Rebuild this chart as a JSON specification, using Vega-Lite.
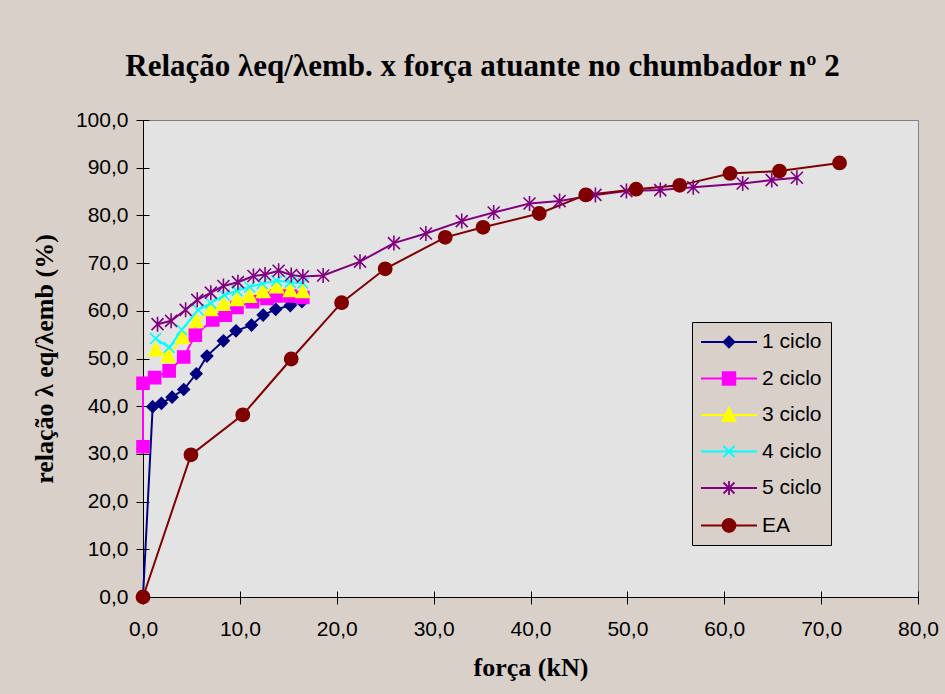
{
  "$schema": "https://vega.github.io/schema/vega-lite/v6.json",
  "autosize": "none",
  "width": 775,
  "height": 477,
  "padding": {"left": 143, "top": 120, "right": 27, "bottom": 97},
  "background": "#D9D0CA",
  "title": {
    "text": "Relação λeq/λemb. x força atuante no chumbador nº 2",
    "font": "Liberation Serif",
    "fontSize": 31,
    "fontWeight": "bold",
    "color": "#000000",
    "anchor": "middle",
    "baseline": "alphabetic",
    "offset": 2,
    "dx": -48
  },
  "config": {
    "view": {"fill": "#E3E3E3", "stroke": "#808080", "strokeWidth": 1},
    "axis": {
      "grid": false,
      "domainColor": "#000000",
      "domainWidth": 1,
      "tickColor": "#000000",
      "tickSize": 7,
      "labelFont": "Liberation Sans",
      "labelFontSize": 21,
      "labelColor": "#000000",
      "labelFlush": false,
      "labelOverlap": false,
      "titleFont": "Liberation Serif",
      "titleFontWeight": "bold",
      "titleColor": "#000000"
    }
  },
  "resolve": {"axis": {"x": "independent", "y": "independent"}},
  "data": {
    "values": [
      {"s": "1 ciclo", "x": 0, "y": 0},
      {"s": "1 ciclo", "x": 1.0, "y": 39.9},
      {"s": "1 ciclo", "x": 1.9, "y": 40.6},
      {"s": "1 ciclo", "x": 3.0, "y": 41.9},
      {"s": "1 ciclo", "x": 4.2, "y": 43.5},
      {"s": "1 ciclo", "x": 5.5, "y": 46.8},
      {"s": "1 ciclo", "x": 6.6, "y": 50.5},
      {"s": "1 ciclo", "x": 8.3, "y": 53.7},
      {"s": "1 ciclo", "x": 9.6, "y": 55.8},
      {"s": "1 ciclo", "x": 11.2, "y": 57.0},
      {"s": "1 ciclo", "x": 12.4, "y": 59.1},
      {"s": "1 ciclo", "x": 13.7, "y": 60.3},
      {"s": "1 ciclo", "x": 15.2, "y": 61.1},
      {"s": "1 ciclo", "x": 16.4, "y": 61.9},
      {"s": "2 ciclo", "x": 0, "y": 31.5},
      {"s": "2 ciclo", "x": 0, "y": 44.8},
      {"s": "2 ciclo", "x": 1.2, "y": 46.0},
      {"s": "2 ciclo", "x": 2.7, "y": 47.4},
      {"s": "2 ciclo", "x": 4.2, "y": 50.3},
      {"s": "2 ciclo", "x": 5.4, "y": 54.9},
      {"s": "2 ciclo", "x": 7.2, "y": 58.1},
      {"s": "2 ciclo", "x": 8.5, "y": 59.1},
      {"s": "2 ciclo", "x": 9.7, "y": 60.7},
      {"s": "2 ciclo", "x": 11.3, "y": 61.9},
      {"s": "2 ciclo", "x": 12.8, "y": 62.6},
      {"s": "2 ciclo", "x": 13.8, "y": 63.1},
      {"s": "2 ciclo", "x": 15.2, "y": 63.1},
      {"s": "2 ciclo", "x": 16.5, "y": 62.8},
      {"s": "3 ciclo", "x": 1.3, "y": 51.8},
      {"s": "3 ciclo", "x": 2.6, "y": 50.4},
      {"s": "3 ciclo", "x": 4.1, "y": 54.4},
      {"s": "3 ciclo", "x": 5.5, "y": 57.7},
      {"s": "3 ciclo", "x": 7.0, "y": 60.2},
      {"s": "3 ciclo", "x": 8.3, "y": 61.3},
      {"s": "3 ciclo", "x": 9.7, "y": 62.3},
      {"s": "3 ciclo", "x": 11.0, "y": 63.0},
      {"s": "3 ciclo", "x": 12.4, "y": 64.0},
      {"s": "3 ciclo", "x": 13.8, "y": 65.0},
      {"s": "3 ciclo", "x": 15.2, "y": 64.2},
      {"s": "3 ciclo", "x": 16.5, "y": 64.0},
      {"s": "4 ciclo", "x": 1.3, "y": 54.2},
      {"s": "4 ciclo", "x": 2.7, "y": 52.3},
      {"s": "4 ciclo", "x": 4.0, "y": 56.0},
      {"s": "4 ciclo", "x": 5.7, "y": 60.2},
      {"s": "4 ciclo", "x": 7.0, "y": 61.6},
      {"s": "4 ciclo", "x": 8.4, "y": 63.3},
      {"s": "4 ciclo", "x": 9.7, "y": 64.2},
      {"s": "4 ciclo", "x": 11.0, "y": 65.0},
      {"s": "4 ciclo", "x": 12.3, "y": 65.7},
      {"s": "4 ciclo", "x": 13.8, "y": 66.3},
      {"s": "4 ciclo", "x": 15.2, "y": 66.0},
      {"s": "4 ciclo", "x": 16.5, "y": 65.8},
      {"s": "5 ciclo", "x": 1.5, "y": 57.2},
      {"s": "5 ciclo", "x": 2.9, "y": 57.9},
      {"s": "5 ciclo", "x": 4.4, "y": 60.2},
      {"s": "5 ciclo", "x": 5.6, "y": 62.3},
      {"s": "5 ciclo", "x": 7.0, "y": 63.8},
      {"s": "5 ciclo", "x": 8.3, "y": 65.2},
      {"s": "5 ciclo", "x": 9.8, "y": 66.0},
      {"s": "5 ciclo", "x": 11.4, "y": 67.3},
      {"s": "5 ciclo", "x": 12.6, "y": 67.6},
      {"s": "5 ciclo", "x": 14.0, "y": 68.4},
      {"s": "5 ciclo", "x": 15.3, "y": 67.5},
      {"s": "5 ciclo", "x": 16.5, "y": 67.2},
      {"s": "5 ciclo", "x": 18.6, "y": 67.4},
      {"s": "5 ciclo", "x": 22.4, "y": 70.3},
      {"s": "5 ciclo", "x": 25.9, "y": 74.2},
      {"s": "5 ciclo", "x": 29.2, "y": 76.2},
      {"s": "5 ciclo", "x": 32.9, "y": 78.8},
      {"s": "5 ciclo", "x": 36.2, "y": 80.6},
      {"s": "5 ciclo", "x": 39.9, "y": 82.5},
      {"s": "5 ciclo", "x": 43.0, "y": 83.0},
      {"s": "5 ciclo", "x": 46.7, "y": 84.3},
      {"s": "5 ciclo", "x": 49.9, "y": 85.1},
      {"s": "5 ciclo", "x": 53.4, "y": 85.3},
      {"s": "5 ciclo", "x": 56.8, "y": 85.9},
      {"s": "5 ciclo", "x": 61.9, "y": 86.7},
      {"s": "5 ciclo", "x": 64.9, "y": 87.4},
      {"s": "5 ciclo", "x": 67.5, "y": 87.9},
      {"s": "EA", "x": 0, "y": 0},
      {"s": "EA", "x": 4.95, "y": 29.8},
      {"s": "EA", "x": 10.3, "y": 38.2},
      {"s": "EA", "x": 15.3, "y": 49.9},
      {"s": "EA", "x": 20.5, "y": 61.7},
      {"s": "EA", "x": 25.0, "y": 68.8},
      {"s": "EA", "x": 31.2, "y": 75.4},
      {"s": "EA", "x": 35.1, "y": 77.5},
      {"s": "EA", "x": 40.9, "y": 80.4},
      {"s": "EA", "x": 45.7, "y": 84.3},
      {"s": "EA", "x": 50.9, "y": 85.5},
      {"s": "EA", "x": 55.4, "y": 86.3},
      {"s": "EA", "x": 60.6, "y": 88.8},
      {"s": "EA", "x": 65.7, "y": 89.3},
      {"s": "EA", "x": 71.9, "y": 91.0}
    ]
  },
  "layer": [
    {
      "mark": {"type": "line", "strokeWidth": 2},
      "encoding": {
        "x": {
          "field": "x",
          "type": "quantitative",
          "scale": {"domain": [0, 80], "nice": false, "zero": false},
          "axis": {
            "orient": "bottom",
            "title": "força (kN)",
            "titleFontSize": 26,
            "values": [0, 10, 20, 30, 40, 50, 60, 70, 80],
            "labelExpr": "replace(format(datum.value, '.1f'), '.', ',')",
            "labelPadding": 14,
            "titlePadding": 15
          }
        },
        "y": {
          "field": "y",
          "type": "quantitative",
          "scale": {"domain": [0, 100], "nice": false},
          "axis": {
            "orient": "left",
            "title": "relação λ eq/λemb (%)",
            "titleFontSize": 26,
            "values": [0, 10, 20, 30, 40, 50, 60, 70, 80, 90, 100],
            "labelExpr": "replace(format(datum.value, '.1f'), '.', ',')",
            "labelPadding": 8,
            "titlePadding": 18
          }
        },
        "order": {"value": null},
        "color": {
          "field": "s",
          "type": "nominal",
          "scale": {
            "domain": ["1 ciclo", "2 ciclo", "3 ciclo", "4 ciclo", "5 ciclo", "EA"],
            "range": ["#000080", "#FF00FF", "#FFFF00", "#00FFFF", "#800080", "#800000"]
          },
          "legend": {
            "title": null,
            "orient": "none",
            "legendX": 549,
            "legendY": 202,
            "fillColor": "#D9D0CA",
            "strokeColor": "#000000",
            "padding": 9,
            "cornerRadius": 0,
            "rowPadding": 15.5,
            "symbolSize": 400,
            "symbolOffset": 17,
            "labelOffset": 22,
            "labelFont": "Liberation Sans",
            "labelFontSize": 21,
            "labelColor": "#000000",
            "encode": {
              "symbols": {
                "update": {
                  "shape": {"signal": "datum.value == '1 ciclo' ? 'M-2.8,0L2.8,0M0,-0.55L0.55,0L0,0.55L-0.55,0Z' : datum.value == '2 ciclo' ? 'M-2.8,0L2.8,0M-0.63,-0.63L0.63,-0.63L0.63,0.63L-0.63,0.63Z' : datum.value == '3 ciclo' ? 'M-2.8,0L2.8,0M0,-0.73L0.66,0.6L-0.66,0.6Z' : datum.value == '4 ciclo' ? 'M-2.8,0L2.8,0M-0.55,-0.55L0.55,0.55M-0.55,0.55L0.55,-0.55' : datum.value == '5 ciclo' ? 'M-2.8,0L2.8,0M-0.55,-0.55L0.55,0.55M-0.55,0.55L0.55,-0.55M0,-0.7L0,0.7' : 'M-2.8,0L2.8,0M0.65,0C0.65,0.36,0.36,0.65,0,0.65C-0.36,0.65,-0.65,0.36,-0.65,0C-0.65,-0.36,-0.36,-0.65,0,-0.65C0.36,-0.65,0.65,-0.36,0.65,0Z'"},
                  "fill": {"scale": "color", "field": "value"},
                  "stroke": {"scale": "color", "field": "value"},
                  "strokeWidth": {"value": 1.8},
                  "size": {"value": 400},
                  "opacity": {"value": 1}
                }
              }
            }
          }
        }
      }
    },
    {
      "mark": {"type": "point", "filled": true, "size": 144, "strokeWidth": 1.6, "opacity": 1},
      "encoding": {
        "x": {
          "field": "x",
          "type": "quantitative",
          "axis": {
            "orient": "bottom",
            "title": null,
            "labels": false,
            "domain": false,
            "tickSize": -6,
            "values": [0, 10, 20, 30, 40, 50, 60, 70, 80]
          }
        },
        "y": {
          "field": "y",
          "type": "quantitative",
          "axis": {
            "orient": "left",
            "title": null,
            "labels": false,
            "domain": false,
            "tickSize": -6,
            "values": [0, 10, 20, 30, 40, 50, 60, 70, 80, 90, 100]
          }
        },
        "color": {"field": "s", "type": "nominal", "legend": null},
        "stroke": {
          "field": "s",
          "type": "nominal",
          "scale": {
            "domain": ["EA", "5 ciclo", "4 ciclo", "3 ciclo", "2 ciclo", "1 ciclo"],
            "range": ["#800000", "#800080", "#00FFFF", "#FFFF00", "#FF00FF", "#000080"]
          },
          "legend": null
        },
        "shape": {
          "field": "s",
          "type": "nominal",
          "scale": {
            "domain": ["EA", "5 ciclo", "4 ciclo", "3 ciclo", "2 ciclo", "1 ciclo"],
            "range": [
              "M1.1,0C1.1,0.61,0.61,1.1,0,1.1C-0.61,1.1,-1.1,0.61,-1.1,0C-1.1,-0.61,-0.61,-1.1,0,-1.1C0.61,-1.1,1.1,-0.61,1.1,0Z",
              "M-1,-1L1,1M-1,1L1,-1M0,-1.25L0,1.25",
              "M-0.9,-0.9L0.9,0.9M-0.9,0.9L0.9,-0.9",
              "M0,-1.2L1.1,0.95L-1.1,0.95Z",
              "M-1,-1L1,-1L1,1L-1,1Z",
              "M0,-0.95L0.95,0L0,0.95L-0.95,0Z"
            ]
          },
          "legend": null
        }
      }
    }
  ]
}
